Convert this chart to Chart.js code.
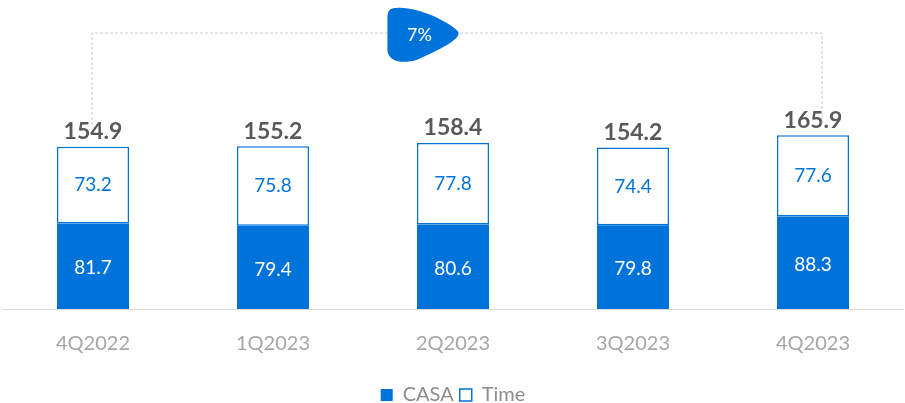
<!DOCTYPE html>
<html><head><meta charset="utf-8">
<script src="https://cdn.jsdelivr.net/npm/chart.js@4"></script>
<style>html,body{margin:0;padding:0;background:#fff}#wrap{width:905px;height:403px}</style>
</head><body><div id="wrap"><canvas id="c" width="905" height="403"></canvas></div>
<script>
const categories = ["4Q2022","1Q2023","2Q2023","3Q2023","4Q2023"];
const casa = [81.7,79.4,80.6,79.8,88.3];
const time = [73.2,75.8,77.8,74.4,77.6];
const totals = [154.9,155.2,158.4,154.2,165.9];
const growthLabel = "7%";
const BLUE = "#0073DA";
const FONT = "Lato, 'Open Sans', sans-serif";

const labelPlugin = {
  id:'labels',
  afterDatasetsDraw(chart){
    const ctx = chart.ctx;
    const m0 = chart.getDatasetMeta(0), m1 = chart.getDatasetMeta(1);
    ctx.save();
    ctx.textAlign='center'; ctx.textBaseline='middle';
    m0.data.forEach((b,i)=>{
      ctx.font = "19px " + FONT;
      ctx.fillStyle='#ffffff';
      ctx.fillText(casa[i].toFixed(1), b.x, (b.y+b.base)/2+2);
    });
    m1.data.forEach((b,i)=>{
      ctx.font = "19px " + FONT;
      ctx.fillStyle=BLUE;
      ctx.fillText(time[i].toFixed(1), b.x, (b.y+b.base)/2);
      ctx.fillStyle='#595959';
      ctx.font = "bold 23px " + FONT;
      ctx.fillText(totals[i].toFixed(1), b.x, b.y-15);
    });
    // bracket
    const x0 = m1.data[0].x - 1, x1 = m1.data[4].x + 9;
    const yTop = 33, yBot = 125;
    ctx.strokeStyle='#c8c8d8'; ctx.lineWidth=1; ctx.setLineDash([3,2]);
    ctx.beginPath();
    ctx.moveTo(x0,yBot); ctx.lineTo(x0,yTop); ctx.lineTo(x1,yTop); ctx.lineTo(x1,yBot);
    ctx.stroke();
    ctx.setLineDash([]);
    // bubble
    const cx = chart.scales.x.getPixelForValue(1.83);
    const l = cx-36, r = cx+36, t = 8, btm = 62, my = 36;
    ctx.fillStyle = BLUE;
    ctx.beginPath();
    ctx.moveTo(l+10, t);
    ctx.bezierCurveTo(l+30, t-2, r-8, my-14, r, my-4);
    ctx.bezierCurveTo(r+2, my+2, r-10, my+10, l+30, btm-2);
    ctx.bezierCurveTo(l+20, btm+1, l+2, btm+2, l+1, btm-12);
    ctx.lineTo(l+1, t+10);
    ctx.bezierCurveTo(l+1, t+2, l+4, t, l+10, t);
    ctx.closePath();
    ctx.fill();
    ctx.fillStyle='#ffffff';
    ctx.font = "18px " + FONT;
    ctx.fillText(growthLabel, cx-3, my-1);
    ctx.restore();
  }
};

new Chart(document.getElementById('c'), {
  type:'bar',
  data:{
    labels:categories,
    datasets:[
      {label:'CASA', data:casa, backgroundColor:BLUE, borderColor:BLUE, borderWidth:0, borderSkipped:false},
      {label:'Time', data:time, backgroundColor:'#ffffff', borderColor:BLUE, borderWidth:1.5, borderSkipped:false}
    ]
  },
  options:{
    responsive:false, animation:false,
    layout:{padding:{left:3,right:2,top:47,bottom:-12}},
    datasets:{bar:{categoryPercentage:1, barPercentage:0.4}},
    scales:{
      x:{stacked:true, grid:{display:false, drawTicks:false}, border:{display:true,color:'#d9d9d9',width:1},
         ticks:{color:'#a6a6a6', font:{family:FONT,size:20}, padding:23}},
      y:{stacked:true, display:false, min:0, max:250}
    },
    plugins:{
      legend:{position:'bottom', labels:{color:'#8c8c8c', font:{family:FONT,size:20}, boxWidth:12, boxHeight:12, padding:6}},
      tooltip:{enabled:false}
    }
  },
  plugins:[labelPlugin]
});
</script></body></html>
